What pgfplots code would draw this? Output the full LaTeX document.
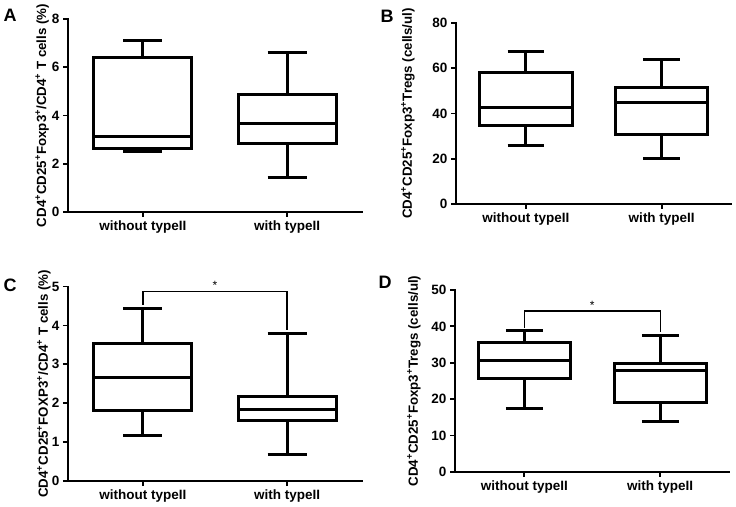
\documentclass[border=0pt]{standalone}
\usepackage{pgfplots}
\pgfplotsset{compat=1.18}
\usepackage{fontspec}
\setmainfont{Liberation Sans}
\newcommand{\sps}[1]{\textsuperscript{#1}}
\pgfplotsset{
  panel/.style={
    scale only axis,
    anchor=south west,
    axis lines=left,
    axis line style={-, line width=1.8pt, line cap=rect},
    tick style={line width=1.8pt, black},
    tick align=outside,
    major tick length=5pt,
    xtick={0,1},
    xticklabels={without typeII, with typeII},
    ymin=0,
    font=\fontsize{13.5}{15}\selectfont\bfseries,
    tick label style={font=\fontsize{13.5}{15}\selectfont\bfseries},
    /pgf/number format/assume math mode=true,
    ylabel style={font=\fontsize{13.3}{15}\selectfont\bfseries, anchor=center, rotate=0},
    clip=false,
  },
  bxl/.style={draw=black, solid, line width=3pt, mark=none, line join=miter},
}
% box at x=0 : #1 lower whisker, #2 Q1, #3 median, #4 Q3, #5 upper whisker
\newcommand{\bpA}[5]{%
  \addplot[bxl] coordinates {(0,#4) (0,#5)};
  \addplot[bxl] coordinates {(-0.135,#5) (0.135,#5)};
  \addplot[bxl] coordinates {(0,#2) (0,#1)};
  \addplot[bxl] coordinates {(-0.135,#1) (0.135,#1)};
  \addplot[bxl, fill=white] coordinates {(-0.34,#2) (0.34,#2) (0.34,#4) (-0.34,#4)} -- cycle;
  \addplot[bxl] coordinates {(-0.34,#3) (0.34,#3)};
}
% box at x=1
\newcommand{\bpB}[5]{%
  \addplot[bxl] coordinates {(1,#4) (1,#5)};
  \addplot[bxl] coordinates {(0.865,#5) (1.135,#5)};
  \addplot[bxl] coordinates {(1,#2) (1,#1)};
  \addplot[bxl] coordinates {(0.865,#1) (1.135,#1)};
  \addplot[bxl, fill=white] coordinates {(0.66,#2) (1.34,#2) (1.34,#4) (0.66,#4)} -- cycle;
  \addplot[bxl] coordinates {(0.66,#3) (1.34,#3)};
}
\begin{document}
\begin{tikzpicture}[x=1pt,y=1pt]
\useasboundingbox (0,0) rectangle (736,506);
% ---------- A ----------
\begin{axis}[panel, at={(68pt,294pt)}, width=294pt, height=193pt,
  xmin=-0.52, xmax=1.52, ymax=8, ytick={0,2,4,6,8},
  ylabel={CD4\sps{+}CD25\sps{+}Foxp3\sps{+}/CD4\sps{+} T cells (\%)},
  ylabel style={at={(axis description cs:-0.088,0.5)}}]
\bpA{2.5}{2.62}{3.15}{6.4}{7.1}
\bpB{1.42}{2.85}{3.65}{4.85}{6.62}
\end{axis}
\node[font=\fontsize{18}{20}\selectfont\bfseries] at (10,491) {A};
% ---------- B ----------
\begin{axis}[panel, at={(456pt,302pt)}, width=275pt, height=181pt,
  xmin=-0.515, xmax=1.51, ymax=80, ytick={0,20,40,60,80},
  ylabel={CD4\sps{+}CD25\sps{+}Foxp3\sps{+}Tregs (cells/ul)},
  ylabel style={at={(axis description cs:-0.175,0.5)}}]
\bpA{26}{34.5}{42.5}{58}{67.5}
\bpB{20}{30.5}{45}{51.5}{64}
\end{axis}
\node[font=\fontsize{18}{20}\selectfont\bfseries] at (387,490) {B};
% ---------- C ----------
\begin{axis}[panel, at={(68pt,25pt)}, width=294pt, height=194.5pt,
  xmin=-0.52, xmax=1.52, ymax=5, ytick={0,1,2,3,4,5},
  ylabel={CD4\sps{+}CD25\sps{+}FOXP3\sps{+}/CD4\sps{+} T cells (\%)},
  ylabel style={at={(axis description cs:-0.082,0.5)}}]
\bpA{1.17}{1.8}{2.65}{3.53}{4.43}
\bpB{0.67}{1.55}{1.83}{2.18}{3.78}
\addplot[black, line width=1.3pt, mark=none] coordinates {(0,4.53) (0,4.87) (1,4.87) (1,3.88)};
\node[font=\fontsize{12}{14}\selectfont] at (axis cs:0.5,5.03) {*};
\end{axis}
\node[font=\fontsize{18}{20}\selectfont\bfseries] at (10,221) {C};
% ---------- D ----------
\begin{axis}[panel, at={(455pt,34pt)}, width=274.5pt, height=182pt,
  xmin=-0.51, xmax=1.51, ymax=50, ytick={0,10,20,30,40,50},
  ylabel={CD4\sps{+}CD25\sps{+}Foxp3\sps{+}Tregs (cells/ul)},
  ylabel style={at={(axis description cs:-0.15,0.5)}}]
\bpA{17.4}{25.8}{30.7}{35.7}{38.9}
\bpB{13.9}{19.0}{27.8}{29.9}{37.5}
\addplot[black, line width=1.3pt, mark=none] coordinates {(0,39.6) (0,44.2) (1,44.2) (1,38.5)};
\node[font=\fontsize{12}{14}\selectfont] at (axis cs:0.5,45.8) {*};
\end{axis}
\node[font=\fontsize{18}{20}\selectfont\bfseries] at (385,224) {D};
\end{tikzpicture}
\end{document}
